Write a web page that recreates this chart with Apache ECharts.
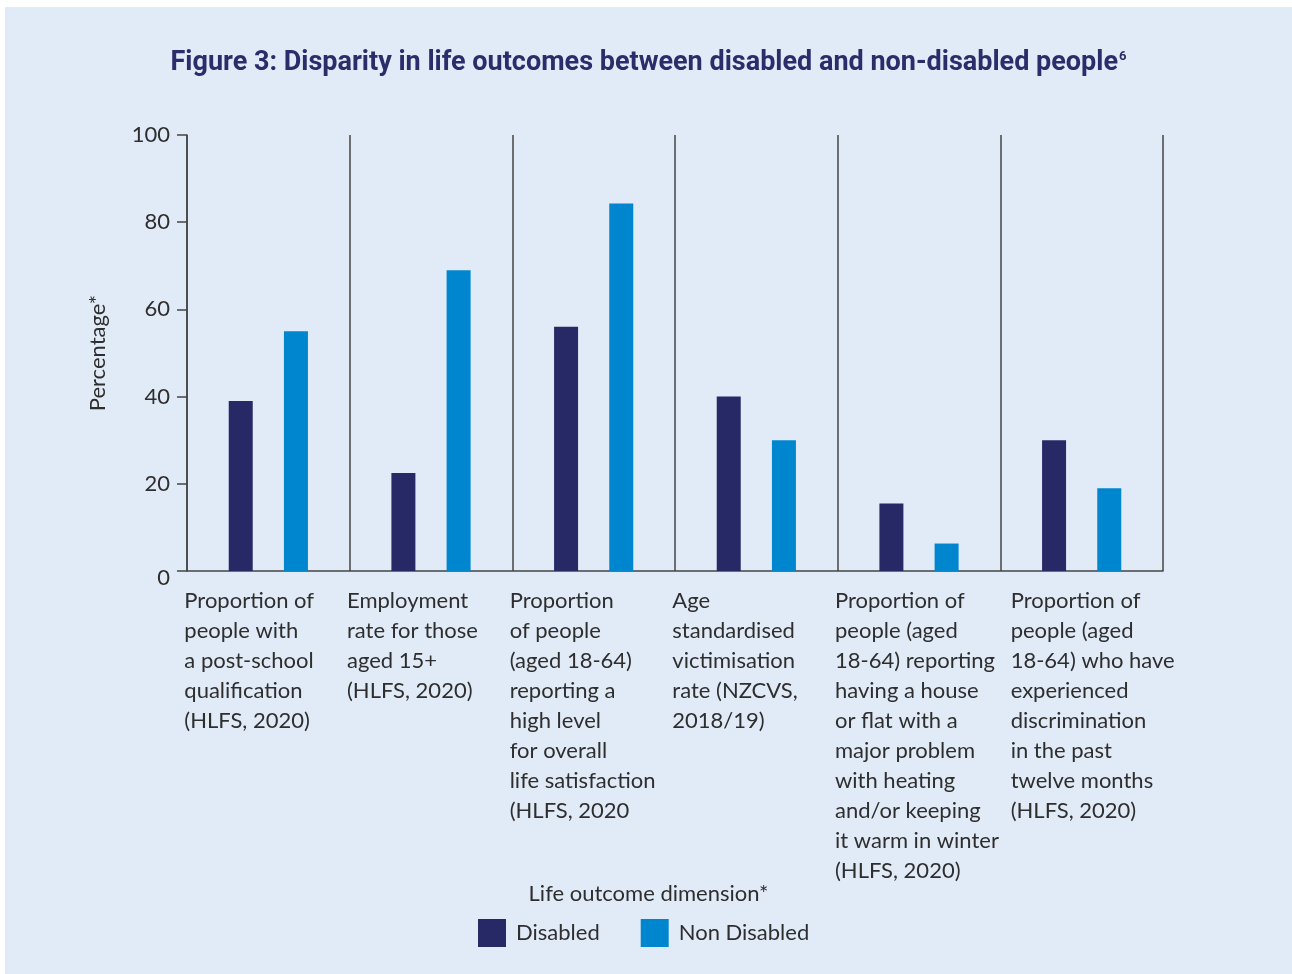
<!DOCTYPE html>
<html>
<head>
<meta charset="utf-8">
<script src="https://cdn.jsdelivr.net/npm/echarts@6/dist/echarts.min.js"></script>
<style>
html,body{margin:0;padding:0;background:#ffffff;width:1292px;height:974px;overflow:hidden;}
#chart{position:absolute;left:5px;top:7px;width:1287px;height:967px;background:#e1ebf7;}
</style>
</head>
<body>
<div id="chart"></div>
<script>
const categories = [
  "Proportion of\npeople with\na post-school\nqualification\n(HLFS, 2020)",
  "Employment\nrate for those\naged 15+\n(HLFS, 2020)",
  "Proportion\nof people\n(aged 18-64)\nreporting a\nhigh level\nfor overall\nlife satisfaction\n(HLFS, 2020",
  "Age\nstandardised\nvictimisation\nrate (NZCVS,\n2018/19)",
  "Proportion of\npeople (aged\n18-64) reporting\nhaving a house\nor flat with a\nmajor problem\nwith heating\nand/or keeping\nit warm in winter\n(HLFS, 2020)",
  "Proportion of\npeople (aged\n18-64) who have\nexperienced\ndiscrimination\nin the past\ntwelve months\n(HLFS, 2020)"
];
const disabled = [39, 22.5, 56, 40, 15.5, 30];
const nonDisabled = [55, 69, 84.3, 30, 6.3, 19];
const yTicks = [0, 20, 40, 60, 80, 100];

const chart = echarts.init(document.getElementById('chart'));
const txt = '#2e2e2e';
const font = 'Lato';
const fs = 22;
chart.setOption({
  animation: false,
  title: [
    {
      text: '{t|Figure 3: Disparity in life outcomes between disabled and non-disabled people}{s|6}',
      left: 'center', top: 38,
      textStyle: {
        rich: {
          t: {fontFamily: 'Roboto', fontWeight: 'bold', fontSize: 27, color: '#2b2d6b'},
          s: {fontFamily: 'Roboto', fontWeight: 'bold', fontSize: 13, color: '#2b2d6b', padding: [0, 0, 13, 1]}
        }
      }
    },
    {
      text: 'Life outcome dimension*',
      left: 'center', top: 871,
      textStyle: {fontFamily: font, fontWeight: 'normal', fontSize: fs, color: txt}
    }
  ],
  legend: {
    left: 468, top: 907,
    itemWidth: 28, itemHeight: 28, itemGap: 41,
    icon: 'rect',
    textStyle: {fontFamily: font, fontSize: fs, color: txt, padding: [0, 0, 0, 5]},
    data: ['Disabled', 'Non Disabled']
  },
  grid: {left: 182, right: 129, top: 128, bottom: 403, containLabel: false},
  xAxis: {
    type: 'category',
    data: categories,
    axisLine: {lineStyle: {color: '#444', width: 1.5}},
    axisTick: {show: false},
    splitLine: {show: true, lineStyle: {color: '#444', width: 1.5}},
    axisLabel: {
      interval: 0,
      margin: 15,
      formatter: function (v, i) {
        const st = i === 5 ? 'b' : 'a';
        return v.split('\n').map(l => '{' + st + '|' + l + '}').join('\n');
      },
      rich: {
        a: {fontFamily: font, fontSize: fs, color: txt, lineHeight: 30, width: 168, align: 'left'},
        b: {fontFamily: font, fontSize: fs, color: txt, lineHeight: 30, width: 142, align: 'left'}
      }
    }
  },
  yAxis: {
    type: 'value',
    min: 0, max: 100, interval: 20,
    name: 'Percentage*',
    nameLocation: 'middle',
    nameGap: 78,
    nameTextStyle: {fontFamily: font, fontSize: fs, color: txt},
    axisLine: {show: true, lineStyle: {color: '#444', width: 1.5}},
    axisTick: {show: true, length: 10, lineStyle: {color: '#444', width: 1.5}},
    splitLine: {show: false},
    axisLabel: {
      margin: 17,
      fontFamily: font, fontSize: fs, color: txt,
      formatter: function (v) { return v === 0 ? '{z|0}' : String(v); },
      rich: {z: {fontFamily: font, fontSize: fs, color: txt, padding: [14, 0, 0, 0]}}
    }
  },
  series: [
    {
      name: 'Disabled', type: 'bar', data: disabled,
      barWidth: 24, barGap: '130%',
      itemStyle: {color: '#262966'}
    },
    {
      name: 'Non Disabled', type: 'bar', data: nonDisabled,
      barWidth: 24,
      itemStyle: {color: '#0085cf'}
    }
  ]
});
</script>
</body>
</html>
